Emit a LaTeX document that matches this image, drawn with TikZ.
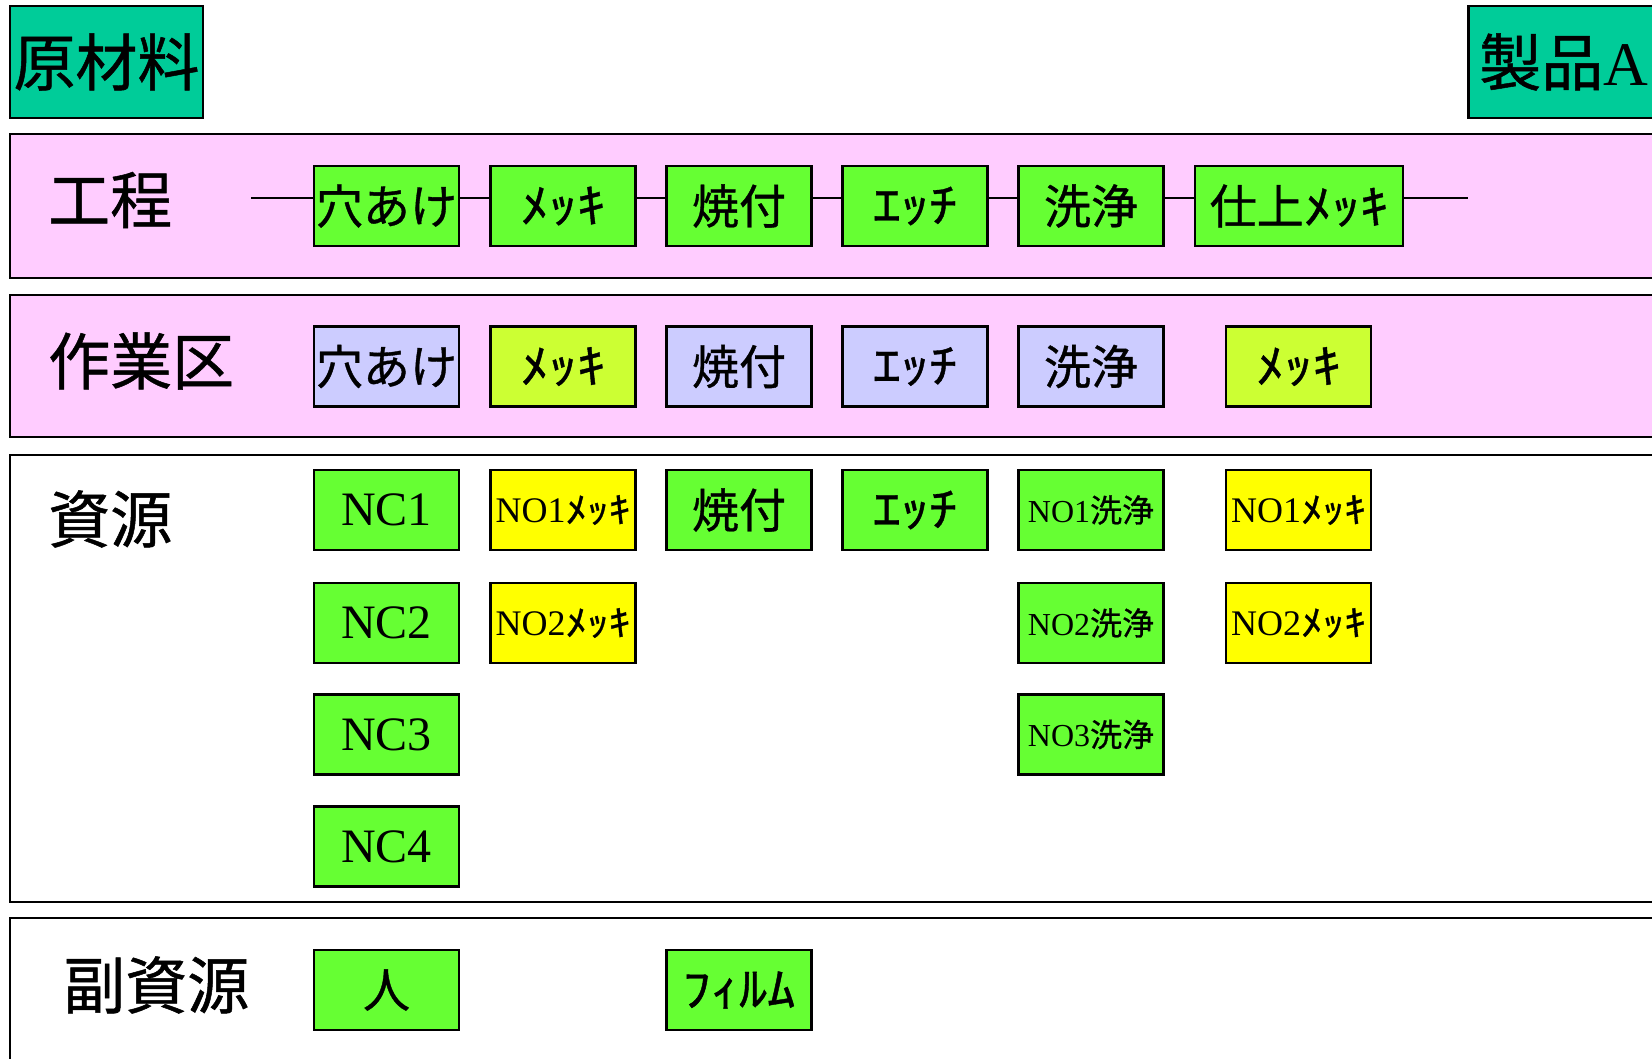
\documentclass[tikz,border=0pt]{standalone}
\usepackage{fontspec}
\usepackage{graphicx}
\setmainfont{Liberation Serif}
\newfontfamily\jp[FakeBold=0.8]{Noto Sans CJK JP}
\newcommand\hk[1]{\scalebox{1.2}[1]{\jp #1}}
\definecolor{teal1}{HTML}{00CC99}
\definecolor{pinkband}{HTML}{FFCCFF}
\definecolor{grn}{HTML}{66FF33}
\definecolor{lav}{HTML}{CCCCFF}
\definecolor{ygrn}{HTML}{CCFF33}
\definecolor{yel}{HTML}{FFFF00}
\begin{document}
\begin{tikzpicture}[x=1pt,y=-1pt,
  band/.style={draw=black,line width=2pt},
  box/.style={draw=black,line width=2.5pt,minimum width=145pt,minimum height=80pt,inner sep=0pt,font=\fontsize{47}{52}\selectfont},
  gbox/.style={box,fill=grn},
  lbox/.style={box,fill=lav},
  ybox/.style={box,fill=yel},
  ygbox/.style={box,fill=ygrn},
  rowlabel/.style={anchor=west,inner sep=0pt,font=\fontsize{62}{66}\selectfont\jp},
  mid/.style={font=\fontsize{36}{40}\selectfont},
  small/.style={font=\fontsize{32}{36}\selectfont},
  big/.style={font=\fontsize{48}{52}\selectfont},
  conn/.style={draw=black,line width=2.2pt}]
\path[use as bounding box] (0,0) rectangle (1652,1059);
\fill[white] (0,0) rectangle (1652,1059);
% bands
\draw[band,fill=pinkband] (10,134) rectangle (1670,278);
\draw[band,fill=pinkband] (10,295) rectangle (1670,437);
\draw[band,fill=white] (10,455) rectangle (1670,902);
\draw[band,fill=white] (10,918) rectangle (1670,1080);
% top boxes
\node[draw=black,line width=2.5pt,fill=teal1,minimum width=193pt,minimum height=112pt,inner sep=0pt,font=\fontsize{62}{66}\selectfont\jp] (raw) at (106.5,62) {原材料};
\node[draw=black,line width=2.5pt,fill=teal1,anchor=west,minimum height=112pt,text width=190pt,align=left,inner xsep=11pt,inner ysep=0pt,font=\fontsize{62}{66}\selectfont] (prod) at (1467,62) {{\jp 製品}A};
% row labels
\node[rowlabel] (lk) at (48,200) {工程};
\node[rowlabel] (ls) at (48,361) {作業区};
\node[rowlabel] (lr) at (48,519) {資源};
\node[rowlabel] (lsr) at (63,985) {副資源};
% process row
\node[gbox] (p1) at (386.5,206) {\jp 穴あけ};
\node[gbox] (p2) at (563,206) {\hk{ﾒｯｷ}};
\node[gbox] (p3) at (739,206) {\jp 焼付};
\node[gbox] (p4) at (915,206) {\hk{ｴｯﾁ}};
\node[gbox] (p5) at (1091,206) {\jp 洗浄};
\node[gbox,minimum width=208pt] (p6) at (1299,206) {{\jp 仕上}\hk{ﾒｯｷ}};
\coordinate (cs) at (251,198);
\coordinate (ce) at (1468,198);
\draw[conn] (cs) -- (cs -| p1.west);
\draw[conn] (p1.east |- cs) -- (p2.west |- cs);
\draw[conn] (p2.east |- cs) -- (p3.west |- cs);
\draw[conn] (p3.east |- cs) -- (p4.west |- cs);
\draw[conn] (p4.east |- cs) -- (p5.west |- cs);
\draw[conn] (p5.east |- cs) -- (p6.west |- cs);
\draw[conn] (p6.east |- cs) -- (ce);
% work area row
\node[lbox] (w1) at (386.5,366.5) {\jp 穴あけ};
\node[ygbox] (w2) at (563,366.5) {\hk{ﾒｯｷ}};
\node[lbox] (w3) at (739,366.5) {\jp 焼付};
\node[lbox] (w4) at (915,366.5) {\hk{ｴｯﾁ}};
\node[lbox] (w5) at (1091,366.5) {\jp 洗浄};
\node[ygbox] (w6) at (1298.5,366.5) {\hk{ﾒｯｷ}};
% resources
\node[gbox,big] (r11) at (386.5,510) {NC1};
\node[gbox,big] (r21) at (386.5,623) {NC2};
\node[gbox,big] (r31) at (386.5,734.5) {NC3};
\node[gbox,big] (r41) at (386.5,846.5) {NC4};
\node[ybox,mid] (r12) at (563,510) {NO1\hk{ﾒｯｷ}};
\node[ybox,mid] (r22) at (563,623) {NO2\hk{ﾒｯｷ}};
\node[gbox] (r13) at (739,510) {\jp 焼付};
\node[gbox] (r14) at (915,510) {\hk{ｴｯﾁ}};
\node[gbox,small] (r15) at (1091,510) {NO1{\jp 洗浄}};
\node[gbox,small] (r25) at (1091,623) {NO2{\jp 洗浄}};
\node[gbox,small] (r35) at (1091,734.5) {NO3{\jp 洗浄}};
\node[ybox,mid] (r16) at (1298.5,510) {NO1\hk{ﾒｯｷ}};
\node[ybox,mid] (r26) at (1298.5,623) {NO2\hk{ﾒｯｷ}};
% sub resources
\node[gbox] (s1) at (386.5,990) {\jp 人};
\node[gbox] (s3) at (739,990) {\hk{ﾌｨﾙﾑ}};
\end{tikzpicture}
\end{document}
